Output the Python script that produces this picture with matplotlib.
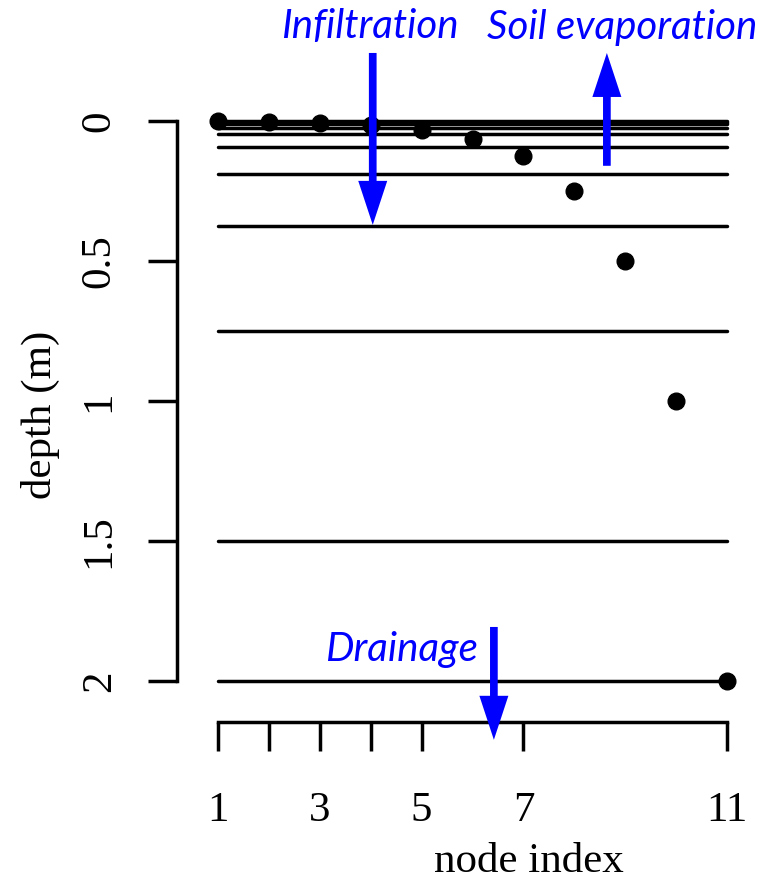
import matplotlib
matplotlib.use('Agg')
import matplotlib.pyplot as plt
from matplotlib.patches import FancyArrow

# ---------------- data ----------------
node_index = [1, 2, 3, 4, 5, 6, 7, 8, 9, 10, 11]
node_depth = [0.0, 0.0039, 0.0078, 0.0156, 0.03125, 0.0625, 0.125, 0.25, 0.5, 1.0, 2.0]
layer_bounds = [0.0, 0.00195, 0.00586, 0.0117, 0.0234, 0.0469, 0.0938,
                0.1875, 0.375, 0.75, 1.5, 2.0]
x_ticks = [1, 2, 3, 4, 5, 7, 11]
x_tick_labels = ['1', '', '3', '', '5', '7', '11']
y_ticks = [0, 0.5, 1, 1.5, 2]
y_tick_labels = ['0', '0.5', '1', '1.5', '2']

flux_names = ['Infiltration', 'Soil evaporation', 'Drainage']
flux_x = [4.04, 8.64, 6.42]
flux_from = [-0.243, 0.16, 1.807]
flux_to = [0.371, -0.243, 2.21]

# ---------------- layout ----------------
W, H = 776, 885
DPI = 100
px_per_x = 50.9
px_per_d = 280.0
x1_px, d0_px = 218.0, 121.0
xlim = (0.0, 11.6)
dlim = (2.35, -0.3)

def xpix(x):
    return x1_px + (x - 1) * px_per_x

def dpix(d):
    return d0_px + d * px_per_d

left = xpix(xlim[0]); right = xpix(xlim[1])
top = dpix(dlim[1]); bottom = dpix(dlim[0])

fig = plt.figure(figsize=(W / DPI, H / DPI), dpi=DPI)
ax = fig.add_axes([left / W, 1 - bottom / H, (right - left) / W, (bottom - top) / H])
ax.set_xlim(*xlim)
ax.set_ylim(*dlim)
ax.patch.set_visible(False)

serif = 'Liberation Serif'
lw = 2.5

# layer boundaries
ax.hlines(layer_bounds, node_index[0], node_index[-1], colors='black',
          linewidth=lw, capstyle='round', zorder=2)
# nodes
ax.plot(node_index, node_depth, 'o', color='black', markersize=12,
        clip_on=False, zorder=3)

# axes in R style
for s in ['top', 'right']:
    ax.spines[s].set_visible(False)
ax.spines['left'].set_position(('data', 1 + (177 - x1_px) / px_per_x))
ax.spines['bottom'].set_position(('data', (722 - d0_px) / px_per_d))
ax.spines['left'].set_bounds(0, 2)
ax.spines['bottom'].set_bounds(1, 11)
ax.spines['left'].set_linewidth(lw)
ax.spines['bottom'].set_linewidth(lw)
ax.spines['left'].set_capstyle('projecting')
ax.spines['bottom'].set_capstyle('projecting')

ax.set_xticks(x_ticks)
ax.set_xticklabels(x_tick_labels, fontfamily=serif, fontsize=31)
ax.set_yticks(y_ticks)
ax.set_yticklabels(y_tick_labels, fontfamily=serif, fontsize=31,
                   rotation=90, va='center')
ax.tick_params(axis='x', direction='out', length=21, width=lw, pad=29)
ax.tick_params(axis='y', direction='out', length=21, width=lw, pad=21)

ax.text(1 + (40 - x1_px) / px_per_x, (415 - d0_px) / px_per_d, 'depth (m)',
        rotation=90, ha='center', va='center', fontfamily=serif, fontsize=31)
ax.text(1 + (529 - x1_px) / px_per_x, (862 - d0_px) / px_per_d, 'node index',
        ha='center', va='center', fontfamily=serif, fontsize=31)

# flux arrows
blue = '#0000FF'
for x, d0, d1 in zip(flux_x, flux_from, flux_to):
    arr = FancyArrow(x, d0, 0, d1 - d0, width=7.7 / px_per_x,
                     head_width=29 / px_per_x, head_length=44 / px_per_d,
                     length_includes_head=True, color=blue, lw=0,
                     clip_on=False, zorder=4)
    ax.add_patch(arr)

lab_pos = [(370, 27), (622, 27), (401, 650)]
for name, (px, py) in zip(flux_names, lab_pos):
    ax.text(1 + (px - x1_px) / px_per_x, (py - d0_px) / px_per_d, name,
            ha='center', va='center', color=blue, fontfamily='Lato',
            fontstyle='italic', fontsize=29)

fig.savefig('out.png', dpi=DPI)
